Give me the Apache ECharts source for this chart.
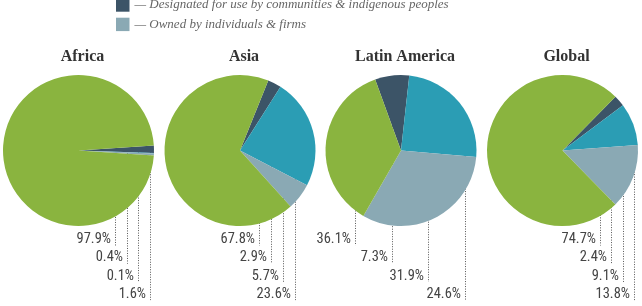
<!DOCTYPE html>
<html><head><meta charset="utf-8">
<script src="https://cdn.jsdelivr.net/npm/echarts@6/dist/echarts.min.js"></script>
<style>html,body{margin:0;padding:0;background:#fff}#c{width:642px;height:306px}</style>
</head><body><div id="c"></div>
<script>
// ---- data ----
const categories = [
  'Designated for use by communities & indigenous peoples',
  'Owned by communities & indigenous peoples',
  'Owned by individuals & firms',
  'Administered by governments'
];
const regions = ['Africa', 'Asia', 'Latin America', 'Global'];
const africa = [1.6, 0.1, 0.4, 97.9];
const asia = [2.9, 23.6, 5.7, 67.8];
const latinAmerica = [7.3, 24.6, 31.9, 36.1];
const globalShares = [2.4, 9.1, 13.8, 74.7];
// order in which the percentage labels are listed (category indices)
const labelOrderAfrica = [3, 2, 1, 0];
const labelOrderAsia = [3, 0, 2, 1];
const labelOrderLatinAmerica = [3, 0, 2, 1];
const labelOrderGlobal = [3, 0, 1, 2];
const legendItems = [categories[0], categories[2]];

// ---- styling / layout ----
const colors = ['#3c5467', '#2b9db4', '#8aa9b4', '#8ab43f'];
const seriesValues = [africa, asia, latinAmerica, globalShares];
const labelOrders = [labelOrderAfrica, labelOrderAsia, labelOrderLatinAmerica, labelOrderGlobal];
const layout = [
  {cx: 78.5, start: 3.8, lead0: 36.2, step: 11.8},
  {cx: 240, start: 68, lead0: 19.3, step: 11.8},
  {cx: 401, start: 110, lead0: -46, step: 36.7},
  {cx: 562.5, start: 45.5, lead0: 37.5, step: 11.4}
];
const CY = 150.5, R = 75.5, ROW0 = 239.5, ROWSTEP = 18.2;
const labelFont = "'Liberation Sans Narrow', 'Roboto Condensed', 'Arial Narrow', sans-serif";

function sliceRanges(values, startAngle) {
  const total = values.reduce((a, b) => a + b, 0);
  let a = 90 - startAngle;
  return values.map(v => { const s = a; a += v / total * 360; return [s, a]; });
}
function inSlice(dx, dy, rng) {
  if (Math.hypot(dx, dy) > R) return false;
  let ang = Math.atan2(dx, -dy) * 180 / Math.PI;
  while (ang < rng[0]) ang += 360;
  while (ang >= rng[0] + 360) ang -= 360;
  return ang < rng[1];
}
function leaderTop(dx, rng) {
  const half = Math.sqrt(Math.max(R * R - dx * dx, 0));
  let bottom = null, top = null;
  for (let y = half - 0.1; y >= -half; y -= 0.25) {
    const inside = inSlice(dx, y, rng);
    if (inside && bottom === null) bottom = y;
    if (!inside && bottom !== null) { top = y; break; }
  }
  if (bottom === null) return 0;
  if (top === null) top = -half;
  return (bottom + top) / 2;
}

const series = seriesValues.map((vals, k) => {
  const L = layout[k];
  const ranges = sliceRanges(vals, L.start);
  const order = labelOrders[k];
  return {
    type: 'pie',
    center: [L.cx, CY],
    radius: R,
    startAngle: L.start,
    clockwise: true,
    avoidLabelOverlap: false,
    silent: true,
    animation: false,
    emphasis: {disabled: true},
    itemStyle: {borderWidth: 0},
    data: vals.map((v, i) => ({name: categories[i], value: v, itemStyle: {color: colors[i]}})),
    label: {
      show: true, position: 'outside', formatter: '{c}%',
      fontFamily: labelFont, fontSize: 14.5, color: '#444'
    },
    labelLine: {
      show: true, length: 5, length2: 5,
      lineStyle: {color: '#555', width: 1, type: [1, 1.5]}
    },
    labelLayout: function (params) {
      const i = params.dataIndex;
      const rank = order.indexOf(i);
      const lx = Math.round(L.cx + L.lead0 + rank * L.step) + 0.5;
      const ly = ROW0 + rank * ROWSTEP;
      const top = CY + leaderTop(lx - L.cx, ranges[i]);
      return {
        x: lx - 4.5, y: ly, align: 'right', verticalAlign: 'middle',
        labelLinePoints: [[lx, top], [lx, ly + 6], [lx, ly + 6]]
      };
    }
  };
});

const chart = echarts.init(document.getElementById('c'), null, {renderer: 'canvas'});
chart.setOption({
  animation: false,
  title: regions.map((r, k) => ({
    text: r, left: layout[k].cx + 4, top: 48.5, textAlign: 'center', padding: 0,
    textStyle: {fontFamily: "'Liberation Serif', serif", fontWeight: 'bold', fontSize: 16, color: '#333'}
  })),
  legend: {
    data: legendItems, orient: 'vertical', left: 116, top: -1.7, padding: 0,
    itemWidth: 13.5, itemHeight: 13.4, itemGap: 6, icon: 'rect', selectedMode: false,
    formatter: n => '\u2014 ' + n,
    textStyle: {fontFamily: "'Liberation Serif', serif", fontStyle: 'italic', fontSize: 13, color: '#666'}
  },
  series: series
});
</script>
</body></html>
